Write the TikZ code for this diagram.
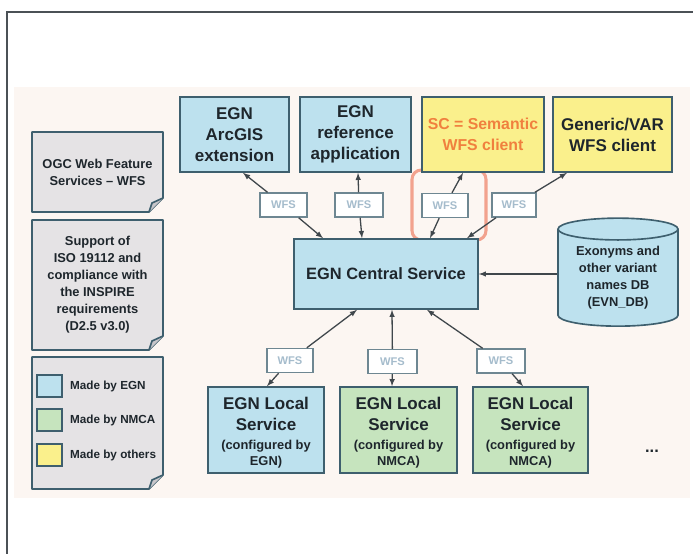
\documentclass[tikz,border=0pt]{standalone}
\usepackage{fontspec}
\setmainfont{Liberation Sans}
\usetikzlibrary{shapes.geometric,calc}

\definecolor{egnblue}{RGB}{189,225,238}
\definecolor{nmcagreen}{RGB}{198,228,190}
\definecolor{otheryellow}{RGB}{250,240,140}
\definecolor{notegray}{RGB}{229,227,229}
\definecolor{foldgray}{RGB}{200,198,202}
\definecolor{boxline}{RGB}{62,95,110}
\definecolor{ink}{RGB}{30,38,44}
\definecolor{wfstext}{RGB}{165,188,204}
\definecolor{hilite}{RGB}{242,162,142}
\definecolor{semorange}{RGB}{240,128,62}
\definecolor{bgpink}{RGB}{252,246,242}

\newcommand{\px}{0.03cm}

% folded paper note: name, x1, y1, x2, y2, text
\newcommand{\sticky}[6]{%
  \draw[paper] (#2,#3) -- (#4,#3) -- (#4,#5-14) -- (#4-14,#5) -- (#2,#5) -- cycle;
  \draw[paper,fill=foldgray] (#4,#5-14) -- (#4-11,#5-9) -- (#4-14,#5);
  \node[notetext] (#1) at ({(#2+#4)/2},{(#3+#5)/2}) {#6};
}

\begin{document}
\begin{tikzpicture}[x=\px, y=-\px, >=latex,
    box/.style={draw=boxline, line width=1.4pt, align=center, text=ink, inner sep=0pt,
      font=\bfseries\fontsize{14.5}{18}\selectfont},
    egn/.style={box, fill=egnblue},
    nmca/.style={box, fill=nmcagreen},
    other/.style={box, fill=otheryellow},
    local/.style={minimum width=116*\px, minimum height=86*\px, font=\bfseries\fontsize{14.5}{17}\selectfont},
    wfs/.style={draw=boxline!75, line width=1.2pt, fill=white, text=wfstext, inner sep=0pt,
      minimum height=24*\px, font=\bfseries\fontsize{9.5}{11}\selectfont},
    arr/.style={draw=ink!85, line width=1.1pt, ->},
    paper/.style={draw=boxline, line width=1.4pt, fill=notegray, line join=round},
    notetext/.style={align=center, text=ink, font=\bfseries\fontsize{11}{14.5}\selectfont},
    key/.style={draw=boxline, line width=1.2pt, minimum width=25*\px, minimum height=22*\px},
    keytext/.style={anchor=west, text=ink, font=\bfseries\fontsize{10}{12}\selectfont}]

    \useasboundingbox (0,0) rectangle (693,554);
    \fill[bgpink] (14,87) rectangle (690,498);
    \draw[ink!80, line width=1pt] (693,12) -- (7,12) -- (7,554);

    % highlight round the semantic client link
    \draw[hilite, line width=2.6pt, rounded corners=8] (412,170) rectangle (486,240);

    \sticky{notewfs}{32}{132}{163}{212}{OGC Web Feature\\Services -- WFS}
    \sticky{noteiso}{32}{220}{163}{350}{Support of\\ISO 19112 and\\compliance with\\the INSPIRE\\requirements\\(D2.5 v3.0)}
    \sticky{legend}{32}{357}{163}{489}{}

    \node[key, fill=egnblue] (keyegn) at (49.5,386) {};
    \node[key, fill=nmcagreen] (keynmca) at (49.5,420) {};
    \node[key, fill=otheryellow] (keyother) at (49.5,455) {};
    \node[keytext] (lblegn) at (66,386) {Made by EGN};
    \node[keytext] (lblnmca) at (66,420) {Made by NMCA};
    \node[keytext] (lblother) at (66,455) {Made by others};

    \node[egn, minimum width=109*\px, minimum height=75*\px] (arcgis) at (234.5,134.5) {EGN\\ArcGIS\\extension};
    \node[egn, minimum width=111*\px, minimum height=75*\px] (refapp) at (355.5,134.5) {EGN\\reference\\application};
    \node[other, minimum width=122*\px, minimum height=75*\px, text=semorange,
      font=\bfseries\fontsize{13.5}{18}\selectfont] (semclient) at (483,134.5) {SC = Semantic\\WFS client};
    \node[other, minimum width=119*\px, minimum height=75*\px] (varclient) at (612.5,134.5) {Generic/VAR\\WFS client};

    \node[egn, minimum width=184*\px, minimum height=70*\px, font=\bfseries\fontsize{14}{17}\selectfont] (central) at (386,274) {EGN Central Service};

    \node[cylinder, shape border rotate=90, aspect=0.26, draw=boxline, line width=1.4pt, fill=egnblue,
      minimum width=120*\px, minimum height=108*\px, align=center, text=ink, inner sep=0pt,
      font=\bfseries\fontsize{11}{14.5}\selectfont] (evndb) at (618,278) {Exonyms and\\other variant\\names DB\\(EVN\_DB)};

    \node[egn, local] (localegn) at (266,430) {};
    \node[nmca, local, minimum width=117*\px] (localnmcaa) at (398.5,430) {};
    \node[nmca, local, minimum width=115*\px] (localnmcab) at (530.5,430) {};
    \node[box, draw=none, fill=none, font=\bfseries\fontsize{14.5}{17}\selectfont] (txtegn) at (266,432.5)
      {EGN Local\\[1.5pt]Service\\[-1.5pt]\fontsize{11}{12}\selectfont(configured by\\[-3pt]\fontsize{11}{12}\selectfont EGN)};
    \node[box, draw=none, fill=none, font=\bfseries\fontsize{14.5}{17}\selectfont] (txtnmcaa) at (398.5,432.5)
      {EGN Local\\[1.5pt]Service\\[-1.5pt]\fontsize{11}{12}\selectfont(configured by\\[-3pt]\fontsize{11}{12}\selectfont NMCA)};
    \node[box, draw=none, fill=none, font=\bfseries\fontsize{14.5}{17}\selectfont] (txtnmcab) at (530.5,432.5)
      {EGN Local\\[1.5pt]Service\\[-1.5pt]\fontsize{11}{12}\selectfont(configured by\\[-3pt]\fontsize{11}{12}\selectfont NMCA)};
    \node[text=ink, font=\bfseries\fontsize{14}{14}\selectfont] (more) at (652,451) {...};

    \node[wfs, minimum width=47*\px] (wfsarc) at (283.5,205) {WFS};
    \node[wfs, minimum width=48*\px] (wfsref) at (359,205) {WFS};
    \node[wfs, minimum width=46*\px] (wfssem) at (445,205.5) {WFS};
    \node[wfs, minimum width=44*\px] (wfsvar) at (514,205) {WFS};
    \node[wfs, minimum width=46*\px] (wfslegn) at (290,360.5) {WFS};
    \node[wfs, minimum width=49*\px] (wfslnma) at (392.5,361.5) {WFS};
    \node[wfs, minimum width=48*\px] (wfslnmb) at (501,361) {WFS};

    \draw[arr] (wfsarc) -- ($(arcgis.south)+(8.5,0)$);
    \draw[arr] (wfsarc) -- ($(central.north)+(-63,0)$);
    \draw[arr] (wfsref) -- ($(refapp.south)+(2.5,0)$);
    \draw[arr] (wfsref) -- ($(central.north)+(-24,0)$);
    \draw[arr] (wfssem) -- ($(semclient.south)+(-20,0)$);
    \draw[arr] (wfssem) -- ($(central.north)+(44,0)$);
    \draw[arr] (wfsvar) -- ($(varclient.south)+(-45.5,0)$);
    \draw[arr] (wfsvar) -- ($(central.north)+(81,0)$);

    \draw[arr] (wfslegn) -- ($(central.south)+(-29,0)$);
    \draw[arr] (wfslegn) -- ($(localegn.north)+(1,0)$);
    \draw[arr] (wfslnma) -- ($(central.south)+(6,0)$);
    \draw[arr] (wfslnma) -- ($(localnmcaa.north)+(-6.5,0)$);
    \draw[arr] (wfslnmb) -- ($(central.south)+(41,0)$);
    \draw[arr] (wfslnmb) -- ($(localnmcab.north)+(-7.5,0)$);

    \draw[arr] (evndb.west |- central.east) -- (central.east);
\end{tikzpicture}
\end{document}
